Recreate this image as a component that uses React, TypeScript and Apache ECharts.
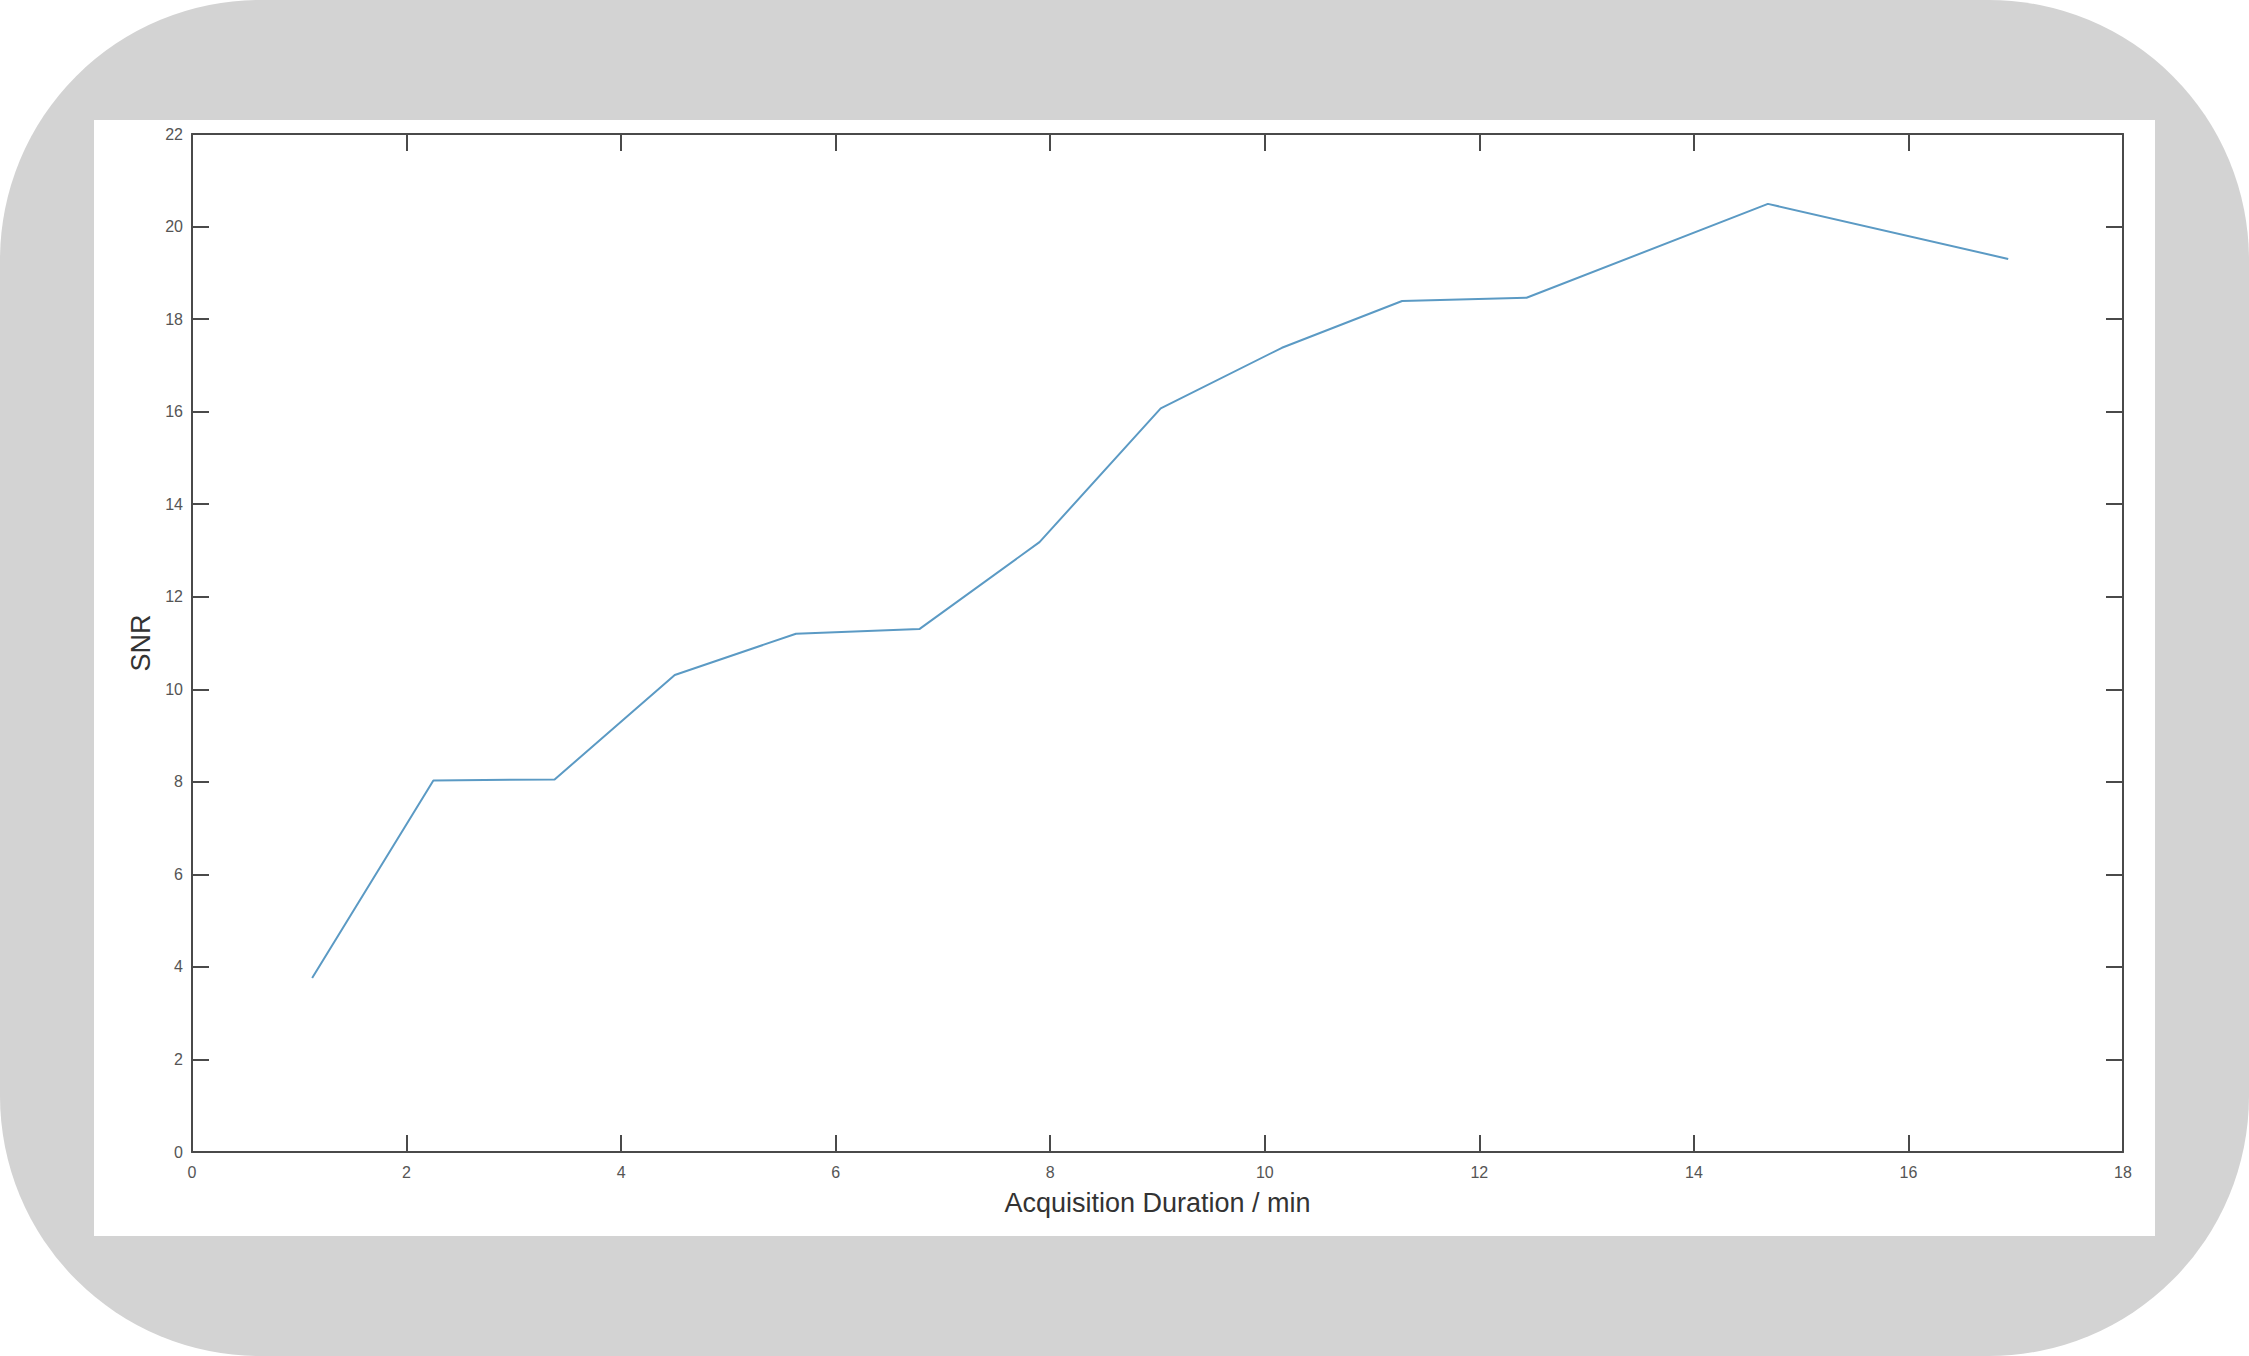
import React, { useEffect, useRef } from "react";
import * as echarts from "echarts";

const durations = [1.12, 2.25, 3.38, 4.5, 5.63, 6.78, 7.9, 9.03, 10.16, 11.28, 12.44, 14.69, 16.93];
const snr = [3.76, 8.03, 8.05, 10.31, 11.2, 11.3, 13.18, 16.07, 17.38, 18.39, 18.46, 20.49, 19.3];
const xTitle = "Acquisition Duration / min";
const yTitle = "SNR";

const W = 2249;
const H = 1356;
const FONT = "'Liberation Sans', Arial, Helvetica, sans-serif";
const AXIS = "#4a4a4a";

export default function App() {
  const ref = useRef<HTMLDivElement>(null);
  useEffect(() => {
    if (!ref.current) return;
    const chart = echarts.init(ref.current, undefined, { renderer: "svg" });
    const data = durations.map((d, i) => [d, snr[i]]);
    const tickCommon = { show: true, inside: true, length: 17, lineStyle: { color: AXIS, width: 2 } };
    const lineCommon = { show: true, onZero: false, lineStyle: { color: AXIS, width: 2 } };
    chart.setOption({
      animation: false,
      backgroundColor: "#ffffff",
      textStyle: { fontFamily: FONT },
      graphic: [
        { type: "rect", z: -10, silent: true, shape: { x: 0, y: 0, width: W, height: H, r: 260 }, style: { fill: "#d3d3d3" } },
        { type: "rect", z: -9, silent: true, shape: { x: 94, y: 120, width: 2061, height: 1116 }, style: { fill: "#ffffff" } },
      ],
      grid: { left: 192, top: 134, width: 1931, height: 1018, containLabel: false },
      xAxis: [
        {
          type: "value", min: 0, max: 18, interval: 2, position: "bottom",
          name: xTitle, nameLocation: "middle", nameGap: 37,
          nameTextStyle: { fontSize: 27, color: "#333", fontFamily: FONT },
          axisLine: lineCommon, axisTick: tickCommon,
          axisLabel: { fontSize: 16, color: "#555", margin: 12, fontFamily: FONT },
          splitLine: { show: false },
        },
        {
          type: "value", min: 0, max: 18, interval: 2, position: "top",
          axisLine: lineCommon, axisTick: tickCommon,
          axisLabel: { show: false }, splitLine: { show: false },
        },
      ],
      yAxis: [
        {
          type: "value", min: 0, max: 22, interval: 2, position: "left",
          name: yTitle, nameLocation: "middle", nameGap: 36,
          nameTextStyle: { fontSize: 27, color: "#333", fontFamily: FONT },
          axisLine: lineCommon, axisTick: tickCommon,
          axisLabel: { fontSize: 16, color: "#555", margin: 9, fontFamily: FONT },
          splitLine: { show: false },
        },
        {
          type: "value", min: 0, max: 22, interval: 2, position: "right",
          axisLine: lineCommon, axisTick: tickCommon,
          axisLabel: { show: false }, splitLine: { show: false },
        },
      ],
      series: [
        {
          type: "line",
          data,
          xAxisIndex: 0,
          yAxisIndex: 0,
          showSymbol: false,
          symbol: "none",
          lineStyle: { color: "#5b9ac4", width: 2 },
        },
      ],
    });
    return () => chart.dispose();
  }, []);
  return (
    <div
      ref={ref}
      style={{ position: "absolute", left: 0, top: 0, width: W, height: H }}
    />
  );
}
